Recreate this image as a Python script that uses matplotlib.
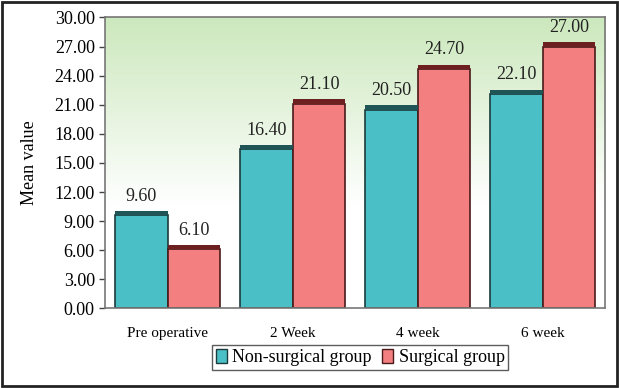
import numpy as np
import matplotlib
matplotlib.use("Agg")
import matplotlib.pyplot as plt
from matplotlib.patches import Rectangle, Patch

categories = ["Pre operative", "2 Week", "4 week", "6 week"]
non_surgical = [9.60, 16.40, 20.50, 22.10]
surgical = [6.10, 21.10, 24.70, 27.00]
y_ticks = [0, 3, 6, 9, 12, 15, 18, 21, 24, 27, 30]

plt.rcParams["font.family"] = ["Liberation Serif", "DejaVu Serif"]

fig = plt.figure(figsize=(6.19, 3.88), dpi=100)
ax = fig.add_axes([0.170, 0.205, 0.808, 0.750])

# green to white gradient backdrop
grad = np.linspace(0, 1, 256).reshape(-1, 1)
top = np.array([0.80, 0.91, 0.74])
white = np.array([1.0, 1.0, 1.0])
w = np.clip((grad - 0.35) / 0.65, 0, 1)
img = (white * (1 - w) + top * w).reshape(256, 1, 3)
ax.imshow(img, extent=[0, 1, 0, 1], transform=ax.transAxes, origin="lower",
          aspect="auto", zorder=0)

x = np.arange(len(categories))
bw = 0.42
teal = "#4bbfc6"
pink = "#f37f80"
ax.bar(x - bw / 2, non_surgical, bw, color=teal, edgecolor="#1c3b3c",
       linewidth=1.2, zorder=2)
ax.bar(x + bw / 2, surgical, bw, color=pink, edgecolor="#4a1a1a",
       linewidth=1.2, zorder=2)

# dark top strip for a bit of 3D feel
ax.bar(x - bw / 2, [0.45] * len(x), bw, bottom=non_surgical, color="#1f5557",
       edgecolor="none", zorder=3)
ax.bar(x + bw / 2, [0.45] * len(x), bw, bottom=surgical, color="#6e1f20",
       edgecolor="none", zorder=3)

for xi, v in zip(x - bw / 2, non_surgical):
    ax.text(xi, v + 1.1, f"{v:.2f}", ha="center", va="bottom", fontsize=13,
            color="#222222", zorder=4)
for xi, v in zip(x + bw / 2, surgical):
    ax.text(xi, v + 1.1, f"{v:.2f}", ha="center", va="bottom", fontsize=13,
            color="#222222", zorder=4)

ax.set_xlim(-0.5, len(categories) - 0.5)
ax.set_ylim(0, 30)
ax.set_yticks(y_ticks)
ax.set_yticklabels([f"{t:.2f}" for t in y_ticks], fontsize=13)
ax.set_xticks(x)
ax.set_xticklabels(categories, fontsize=11)
ax.tick_params(axis="x", length=0, pad=13)
ax.tick_params(axis="y", length=4, width=1, color="#444444")
for s in ax.spines.values():
    s.set_color("#777777")
    s.set_linewidth(1.2)
ax.set_ylabel("Mean value", fontsize=13, labelpad=12)

ax.legend(handles=[Patch(facecolor=teal, edgecolor="#1c3b3c", label="Non-surgical group"),
                   Patch(facecolor=pink, edgecolor="#4a1a1a", label="Surgical group")],
          loc="upper center", bbox_to_anchor=(0.51, -0.127), ncol=2, fontsize=13,
          frameon=True, fancybox=False, edgecolor="#333333", borderaxespad=0,
          handlelength=0.6, handleheight=0.8, handletextpad=0.3,
          columnspacing=0.6, borderpad=0.2)

fig.patches.append(Rectangle((0.003, 0.005), 0.994, 0.99, transform=fig.transFigure,
                             fill=False, edgecolor="#222222", linewidth=2))

fig.savefig("out.png", dpi=100)
